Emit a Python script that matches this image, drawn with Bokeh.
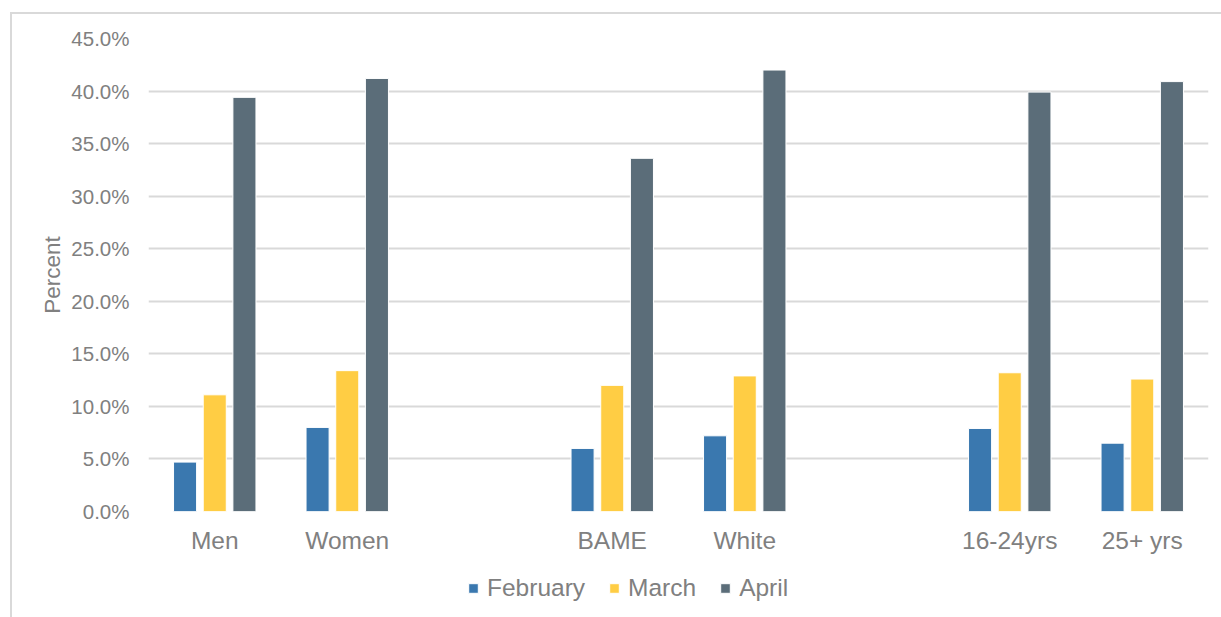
from bokeh.plotting import figure
from bokeh.layouts import column
from bokeh.models import (ColumnDataSource, FactorRange, Range1d, FixedTicker,
                          PrintfTickFormatter, Legend, LegendItem, InlineStyleSheet)
from bokeh.transform import dodge
from bokeh.embed import file_html
from bokeh.resources import INLINE

# ---- data ----
categories = ["Men", "Women", " ", "BAME", "White", "  ", "16-24yrs", "25+ yrs"]
february = [4.7, 8.0, None, 6.0, 7.2, None, 7.9, 6.5]
march = [11.1, 13.4, None, 12.0, 12.9, None, 13.2, 12.6]
april = [39.4, 41.2, None, 33.6, 42.0, None, 39.9, 40.9]
series_names = ["February", "March", "April"]
y_ticks = [0, 5, 10, 15, 20, 25, 30, 35, 40, 45]

colors = ["#3A78AF", "#FFCD44", "#5B6D79"]
FONT = "Liberation Sans"
TEXT = "#808080"
GRID = "#d9d9d9"
NAN = float("nan")


def clean(vals):
    return [v if v is not None else NAN for v in vals]


src = ColumnDataSource(data=dict(cat=categories,
                                 February=clean(february),
                                 March=clean(march),
                                 April=clean(april)))

MAIN_H = 565
LEG_H = 617 - MAIN_H

p = figure(x_range=FactorRange(*categories), y_range=Range1d(0, 45),
           width=1221, height=MAIN_H, output_backend="svg", toolbar_location=None,
           min_border_left=148, min_border_right=13, min_border_top=38,
           min_border_bottom=MAIN_H - 511)
p.outline_line_color = None
p.background_fill_color = "white"
p.border_fill_color = "white"

offsets = [-0.224, 0.0, 0.224]
for name, off, col in zip(series_names, offsets, colors):
    p.vbar(x=dodge("cat", off, range=p.x_range), top=name, width=0.174, source=src,
           fill_color=col, line_color="white", line_width=1)

# axes
p.xaxis.axis_line_color = None
p.xaxis.major_tick_line_color = None
p.xaxis.minor_tick_line_color = None
p.xaxis.major_tick_out = 0
p.xaxis.major_tick_in = 0
p.xaxis.major_label_text_font = FONT
p.xaxis.major_label_text_font_size = "24.5px"
p.xaxis.major_label_text_color = TEXT
p.xaxis.major_label_standoff = 15

p.yaxis.ticker = FixedTicker(ticks=y_ticks)
p.yaxis.formatter = PrintfTickFormatter(format="%.1f%%")
p.yaxis.axis_line_color = None
p.yaxis.major_tick_line_color = None
p.yaxis.minor_tick_line_color = None
p.yaxis.major_tick_out = 0
p.yaxis.major_tick_in = 0
p.yaxis.major_label_text_font = FONT
p.yaxis.major_label_text_font_size = "20.5px"
p.yaxis.major_label_text_color = TEXT
p.yaxis.major_label_standoff = 19
p.yaxis.axis_label = "Percent"
p.yaxis.axis_label_text_font = FONT
p.yaxis.axis_label_text_font_size = "22.5px"
p.yaxis.axis_label_text_font_style = "normal"
p.yaxis.axis_label_text_color = TEXT
p.yaxis.axis_label_standoff = 3

p.xgrid.grid_line_color = None
p.ygrid.grid_line_color = GRID
p.ygrid.grid_line_width = 2

# ---- legend strip below the chart (its frame is aligned with the chart frame) ----
lf = figure(width=1221, height=LEG_H, output_backend="svg", toolbar_location=None,
            x_range=Range1d(0, 1), y_range=Range1d(0, 1),
            x_axis_type=None, y_axis_type=None,
            min_border_left=0, min_border_right=0, min_border_top=0, min_border_bottom=0)
lf.outline_line_color = None
lf.background_fill_color = "white"
lf.border_fill_color = "white"
lf.grid.visible = False
# legend swatch renderers: no visible data, only used for the legend swatches
leg_renderers = [lf.vbar(x=[NAN], top=[NAN], width=0.1, fill_color=c, line_color="white", line_width=1)
                 for c in colors]
items = [LegendItem(label=n, renderers=[r]) for n, r in zip(series_names, leg_renderers)]
legend = Legend(items=items, orientation="horizontal", location=(319, 15),
                border_line_color=None, background_fill_alpha=0, padding=0, margin=0,
                spacing=23, label_standoff=8, glyph_width=12, glyph_height=12,
                label_text_font=FONT, label_text_font_size="24.5px", label_text_color=TEXT)
lf.add_layout(legend, "center")

# outer chart border (light grey frame around the chart area)
layout = column(p, lf, spacing=0)
layout.stylesheets = [InlineStyleSheet(css="""
:host { position: relative; }
:host::after {
  content: '';
  position: absolute;
  left: 10px; top: 12px; right: -20px; bottom: -20px;
  border: 2px solid #d9d9d9;
  pointer-events: none;
}
""")]

open("out.html", "w").write(file_html(layout, INLINE))
